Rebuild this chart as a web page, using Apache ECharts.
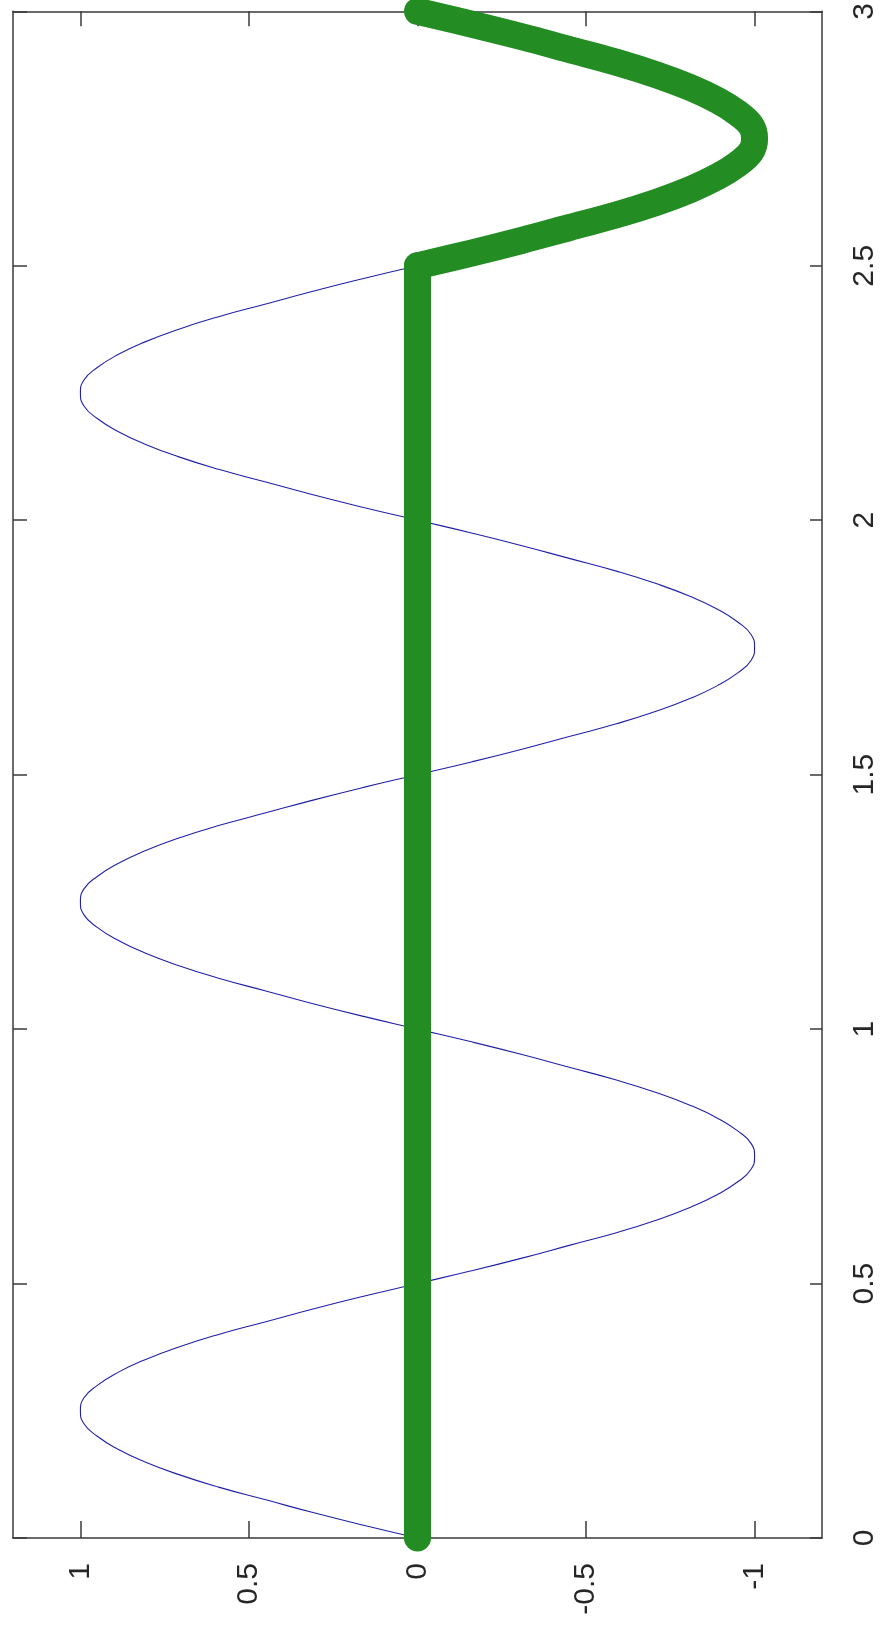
<!DOCTYPE html>
<html>
<head>
<meta charset="utf-8">
<script src="https://cdn.jsdelivr.net/npm/echarts@6/dist/echarts.min.js"></script>
<style>
  html, body { margin: 0; padding: 0; background: #ffffff; }
  #chart { width: 880px; height: 1631px; }
</style>
</head>
<body>
<div id="chart"></div>
<script>
// Sample positions along t (drawn on the vertical axis, 0 at the bottom)
const tValues = [
  0, 0.025, 0.05, 0.075, 0.1, 0.125, 0.15, 0.175, 0.2, 0.225,
  0.25, 0.275, 0.3, 0.325, 0.35, 0.375, 0.4, 0.425, 0.45, 0.475,
  0.5, 0.525, 0.55, 0.575, 0.6, 0.625, 0.65, 0.675, 0.7, 0.725,
  0.75, 0.775, 0.8, 0.825, 0.85, 0.875, 0.9, 0.925, 0.95, 0.975,
  1, 1.025, 1.05, 1.075, 1.1, 1.125, 1.15, 1.175, 1.2, 1.225,
  1.25, 1.275, 1.3, 1.325, 1.35, 1.375, 1.4, 1.425, 1.45, 1.475,
  1.5, 1.525, 1.55, 1.575, 1.6, 1.625, 1.65, 1.675, 1.7, 1.725,
  1.75, 1.775, 1.8, 1.825, 1.85, 1.875, 1.9, 1.925, 1.95, 1.975,
  2, 2.025, 2.05, 2.075, 2.1, 2.125, 2.15, 2.175, 2.2, 2.225,
  2.25, 2.275, 2.3, 2.325, 2.35, 2.375, 2.4, 2.425, 2.45, 2.475,
  2.5, 2.525, 2.55, 2.575, 2.6, 2.625, 2.65, 2.675, 2.7, 2.725,
  2.75, 2.775, 2.8, 2.825, 2.85, 2.875, 2.9, 2.925, 2.95, 2.975,
  3
];

// Thin blue wave, t = 0 .. 2.5
const blueWave = [
  0, 0.16, 0.31, 0.45, 0.59, 0.71, 0.81, 0.89, 0.95, 0.99,
  1.00, 0.99, 0.95, 0.89, 0.81, 0.71, 0.59, 0.45, 0.31, 0.16,
  0, -0.16, -0.31, -0.45, -0.59, -0.71, -0.81, -0.89, -0.95, -0.99,
  -1.00, -0.99, -0.95, -0.89, -0.81, -0.71, -0.59, -0.45, -0.31, -0.16,
  0, 0.16, 0.31, 0.45, 0.59, 0.71, 0.81, 0.89, 0.95, 0.99,
  1.00, 0.99, 0.95, 0.89, 0.81, 0.71, 0.59, 0.45, 0.31, 0.16,
  0, -0.16, -0.31, -0.45, -0.59, -0.71, -0.81, -0.89, -0.95, -0.99,
  -1.00, -0.99, -0.95, -0.89, -0.81, -0.71, -0.59, -0.45, -0.31, -0.16,
  0, 0.16, 0.31, 0.45, 0.59, 0.71, 0.81, 0.89, 0.95, 0.99,
  1.00, 0.99, 0.95, 0.89, 0.81, 0.71, 0.59, 0.45, 0.31, 0.16,
  0
];

// Thick green trace, t = 0 .. 3 (flat at zero, then one negative lobe)
const greenTrace = [
  0, 0, 0, 0, 0, 0, 0, 0, 0, 0,
  0, 0, 0, 0, 0, 0, 0, 0, 0, 0,
  0, 0, 0, 0, 0, 0, 0, 0, 0, 0,
  0, 0, 0, 0, 0, 0, 0, 0, 0, 0,
  0, 0, 0, 0, 0, 0, 0, 0, 0, 0,
  0, 0, 0, 0, 0, 0, 0, 0, 0, 0,
  0, 0, 0, 0, 0, 0, 0, 0, 0, 0,
  0, 0, 0, 0, 0, 0, 0, 0, 0, 0,
  0, 0, 0, 0, 0, 0, 0, 0, 0, 0,
  0, 0, 0, 0, 0, 0, 0, 0, 0, 0,
  0, -0.16, -0.31, -0.45, -0.59, -0.71, -0.81, -0.89, -0.95, -0.99,
  -1.00, -0.99, -0.95, -0.89, -0.81, -0.71, -0.59, -0.45, -0.31, -0.16,
  0
];

// Index in greenTrace where the flat stretch ends and the lobe begins (t = 2.5)
const greenBreak = 100;

// Tick labels
const ampTicks = [-1, -0.5, 0, 0.5, 1];
const tTicks = [0, 0.5, 1, 1.5, 2, 2.5, 3];

const blueData = blueWave.map((v, i) => [v, tValues[i]]);
const greenData = greenTrace.map((v, i) => [v, tValues[i]]);
const greenFlat = greenData.slice(0, greenBreak + 1);
const greenLobe = greenData.slice(greenBreak);

const frameColor = '#3a3a3a';
const labelFont = {
  color: '#262626',
  fontFamily: 'Liberation Sans, Arial, sans-serif',
  fontSize: 30
};
const greenStyle = { color: '#238c22', width: 27, cap: 'round', join: 'round' };

const chart = echarts.init(document.getElementById('chart'), null, { renderer: 'canvas' });

chart.setOption({
  backgroundColor: '#ffffff',
  animation: false,
  grid: { left: 13, right: 57, top: 10, bottom: 93, containLabel: false },
  xAxis: [
    {
      type: 'value', position: 'bottom', min: -1.2, max: 1.2, inverse: true,
      axisLine: { show: true, onZero: false, lineStyle: { color: frameColor, width: 1.5 } },
      axisTick: { show: true, inside: true, length: 17, customValues: ampTicks,
        lineStyle: { color: frameColor, width: 1.5 } },
      axisLabel: Object.assign({ show: true, rotate: 90, margin: 25, customValues: ampTicks,
        formatter: v => String(v) }, labelFont),
      splitLine: { show: false }
    },
    {
      type: 'value', position: 'top', min: -1.2, max: 1.2, inverse: true,
      axisLine: { show: true, onZero: false, lineStyle: { color: frameColor, width: 1.5 } },
      axisTick: { show: true, inside: true, length: 15, customValues: ampTicks,
        lineStyle: { color: frameColor, width: 1.5 } },
      axisLabel: { show: false },
      splitLine: { show: false }
    }
  ],
  yAxis: [
    {
      type: 'value', position: 'right', min: 0, max: 3, interval: 0.5,
      axisLine: { show: true, onZero: false, lineStyle: { color: frameColor, width: 1.5 } },
      axisTick: { show: true, inside: true, length: 12, customValues: tTicks,
        lineStyle: { color: frameColor, width: 1.5 } },
      axisLabel: Object.assign({ show: true, rotate: 90, margin: 28, customValues: tTicks,
        formatter: v => String(v) }, labelFont),
      splitLine: { show: false }
    },
    {
      type: 'value', position: 'left', min: 0, max: 3, interval: 0.5,
      axisLine: { show: true, onZero: false, lineStyle: { color: frameColor, width: 1.5 } },
      axisTick: { show: true, inside: true, length: 14, customValues: tTicks,
        lineStyle: { color: frameColor, width: 1.5 } },
      axisLabel: { show: false },
      splitLine: { show: false }
    }
  ],
  series: [
    {
      type: 'line', xAxisIndex: 0, yAxisIndex: 0,
      data: blueData, smooth: true, showSymbol: false, clip: false,
      lineStyle: { color: '#2020a8', width: 1.1 }
    },
    {
      type: 'line', xAxisIndex: 0, yAxisIndex: 0,
      data: greenFlat, smooth: false, showSymbol: false, clip: false,
      lineStyle: greenStyle
    },
    {
      type: 'line', xAxisIndex: 0, yAxisIndex: 0,
      data: greenLobe, smooth: 0.4, showSymbol: false, clip: false,
      lineStyle: greenStyle
    }
  ]
});
</script>
</body>
</html>
